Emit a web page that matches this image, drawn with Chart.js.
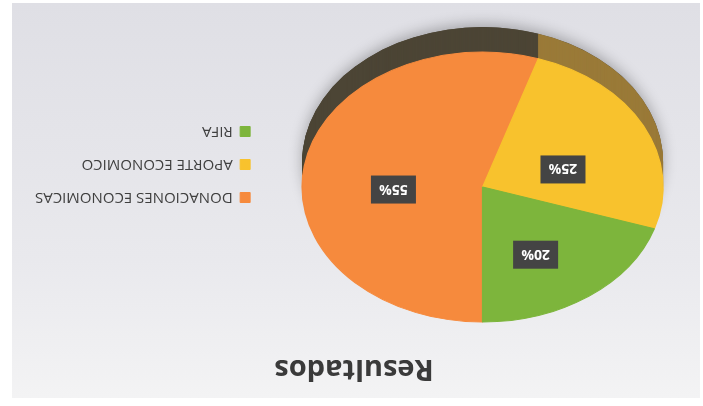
<!DOCTYPE html>
<html><head><meta charset="utf-8">
<script src="https://cdn.jsdelivr.net/npm/chart.js@4.4.1/dist/chart.umd.min.js"></script>
<style>
html,body{margin:0;padding:0;background:#fff;overflow:hidden;}
#wrap{width:703px;height:406px;transform:rotate(180deg);transform-origin:50% 50%;}
canvas{display:block;}
</style></head><body>
<div id="wrap"><canvas id="c" width="703" height="406"></canvas></div>
<script>
// ---- data ----
const categories = ['DONACIONES ECONOMICAS', 'APORTE ECONOMICO', 'RIFA'];
const values = [55, 25, 20];
const percentLabels = ['55%', '25%', '20%'];
const titleText = 'Resultados';

// ---- style ----
const sliceColors = ['#F68A3D', '#F8C22D', '#7DB53C'];
const sideColors = ['#4C4535', '#9A7A38', '#55702C'];
const XSCALE = 1.337;
const DEPTH = 25;
const LABEL_R = 0.5;
const LABEL_DY = -13;
const TITLE_SHIFT = 7;

const pie3d = {
  id: 'pie3d',
  beforeDraw(chart) {
    const ctx = chart.ctx;
    ctx.save();
    ctx.fillStyle = '#ffffff';
    ctx.fillRect(0, 0, chart.width, chart.height);
    const g = ctx.createLinearGradient(0, 8, 0, 403);
    g.addColorStop(0, '#f3f3f4');
    g.addColorStop(0.35, '#e9e9ed');
    g.addColorStop(1, '#dfdfe5');
    ctx.fillStyle = g;
    ctx.fillRect(3, 8, 688, 395);
    ctx.restore();
  },
  afterLayout(chart) {
    if (chart.titleBlock) {
      chart.titleBlock.left += TITLE_SHIFT;
      chart.titleBlock.right += TITLE_SHIFT;
    }
  },
  beforeDatasetsDraw(chart) {
    const ctx = chart.ctx;
    const meta = chart.getDatasetMeta(0);
    const p0 = meta.data[0].getProps(['x', 'y'], true);
    ctx.save();
    ctx.translate(p0.x, 0);
    ctx.scale(XSCALE, 1);
    ctx.translate(-p0.x, 0);
    ctx.save();
    ctx.shadowColor = 'rgba(0,0,0,0.28)';
    ctx.shadowBlur = 14;
    ctx.shadowOffsetY = 3;
    const pr = meta.data[0].getProps(['outerRadius'], true);
    ctx.beginPath();
    ctx.arc(p0.x, p0.y + DEPTH, pr.outerRadius, 0, Math.PI * 2);
    ctx.fillStyle = sideColors[0];
    ctx.fill();
    ctx.restore();
    for (let d = DEPTH; d >= 1; d--) {
      meta.data.forEach((arc, i) => {
        const p = arc.getProps(['x', 'y', 'startAngle', 'endAngle', 'outerRadius'], true);
        ctx.beginPath();
        ctx.moveTo(p.x, p.y + d);
        ctx.arc(p.x, p.y + d, p.outerRadius, p.startAngle, p.endAngle);
        ctx.closePath();
        ctx.fillStyle = sideColors[i];
        ctx.fill();
      });
    }
  },
  afterDatasetsDraw(chart) {
    const ctx = chart.ctx;
    ctx.restore();
    const meta = chart.getDatasetMeta(0);
    ctx.save();
    ctx.font = 'bold 14px "Open Sans", sans-serif';
    ctx.textAlign = 'center';
    ctx.textBaseline = 'middle';
    meta.data.forEach((arc, i) => {
      const p = arc.getProps(['x', 'y', 'startAngle', 'endAngle', 'outerRadius'], true);
      const mid = (p.startAngle + p.endAngle) / 2;
      const r = p.outerRadius * LABEL_R;
      const x = p.x + Math.cos(mid) * r * XSCALE;
      const y = p.y + Math.sin(mid) * r + LABEL_DY;
      ctx.fillStyle = '#444444';
      ctx.fillRect(x - 22.5, y - 14, 45, 28);
      ctx.fillStyle = '#ffffff';
      ctx.fillText(percentLabels[i], x, y + 1);
    });
    ctx.restore();
  }
};

new Chart(document.getElementById('c'), {
  type: 'pie',
  data: {
    labels: categories,
    datasets: [{
      data: values,
      backgroundColor: sliceColors,
      borderColor: sliceColors,
      borderWidth: 1,
      radius: 135,
      clip: false
    }]
  },
  options: {
    responsive: false,
    animation: false,
    devicePixelRatio: 1,
    rotation: 0,
    layout: { padding: { left: 6, right: 25, top: 8, bottom: 33 } },
    plugins: {
      tooltip: { enabled: false },
      title: {
        display: true,
        text: titleText,
        color: '#3a3a3a',
        font: { family: '"Open Sans", sans-serif', size: 29, weight: 'bold' },
        padding: { top: 12, bottom: 10 }
      },
      legend: {
        position: 'right',
        align: 'center',
        title: { display: true, text: ' ', font: { size: 10 }, padding: { top: 45, bottom: 45 } },
        labels: {
          boxWidth: 10,
          boxHeight: 10,
          padding: 18,
          color: '#404040',
          font: { family: '"Open Sans", sans-serif', size: 15 }
        }
      }
    }
  },
  plugins: [pie3d]
});
</script>
</body></html>
